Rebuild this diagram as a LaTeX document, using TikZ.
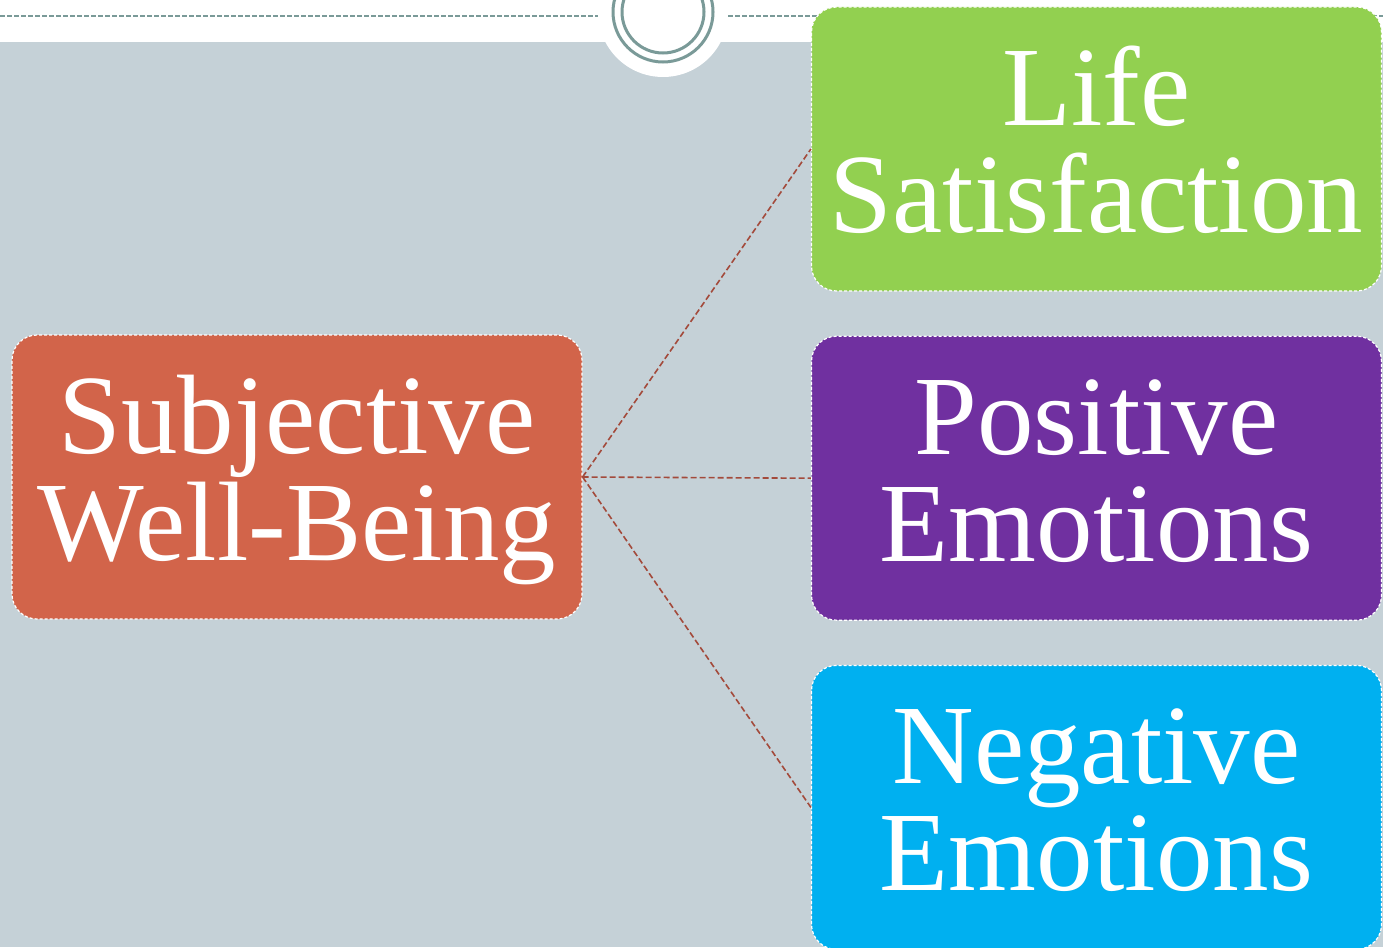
\documentclass[tikz,border=0pt]{standalone}
\usepackage{fontspec}
\setmainfont{Liberation Serif}
\usetikzlibrary{positioning}

\definecolor{bandgrey}{HTML}{C5D1D7}
\definecolor{ringteal}{HTML}{7A9A98}
\definecolor{swbred}{HTML}{D2644A}
\definecolor{lifegreen}{HTML}{92D050}
\definecolor{posviolet}{HTML}{7030A0}
\definecolor{negblue}{HTML}{00B0F0}
\definecolor{linkbrown}{HTML}{A34A3B}

\begin{document}
\begin{tikzpicture}[x=1pt, y=-1pt]
    \tikzstyle{block} = [draw=white, dash pattern=on 3pt off 2pt, line width=1.2pt, rectangle, rounded corners=25pt, minimum width=570pt, minimum height=284pt, text height=190pt, text depth=23pt, align=center, text=white, font=\fontsize{113}{107}\selectfont];
    \tikzstyle{link} = [draw=linkbrown, line width=1.6pt, dash pattern=on 6pt off 3pt];
    \useasboundingbox (0,0) rectangle (1383,947);
    % backdrop
    \fill[white] (0,0) rectangle (1383,947);
    \fill[bandgrey] (0,42) rectangle (1383,947);
    \draw[ringteal, line width=1.5pt, dash pattern=on 5pt off 2pt] (0,16) -- (1383,16);
    \fill[white] (663,12) circle (65pt);
    \draw[ringteal, line width=3pt] (663,12) circle (50pt);
    \draw[ringteal, line width=3pt] (663,12) circle (41pt);
    % boxes
    \node [block, fill=swbred] (swb) at (297,477) {Subjective\\Well-Being};
    \node [block, fill=lifegreen] (life) at (1096.5,149) {Life\\Satisfaction};
    \node [block, fill=posviolet, below=44pt of life] (pos) {Positive\\Emotions};
    \node [block, fill=negblue, below=44pt of pos] (neg) {Negative\\Emotions};
    \draw [link] (swb.east) -- (life.west);
    \draw [link] (swb.east) -- (pos.west);
    \draw [link] (swb.east) -- (neg.west);
\end{tikzpicture}
\end{document}
